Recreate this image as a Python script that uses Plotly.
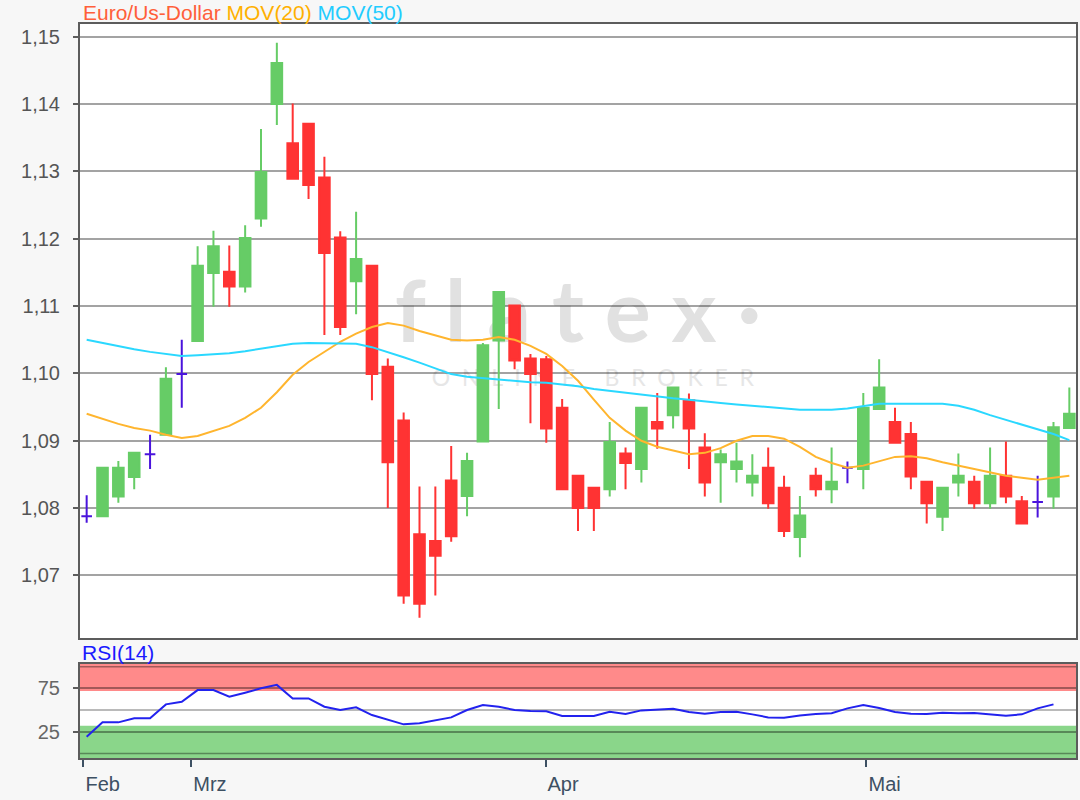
import plotly.graph_objects as go

# ---------------- data ----------------
day_index = list(range(63))

opens = [1.0788, 1.0788, 1.0817, 1.0846, 1.0880, 1.0909, 1.0999, 1.1048, 1.1149, 1.1151,
         1.1129, 1.1230, 1.1400, 1.1342, 1.1371, 1.1291, 1.1202, 1.1137, 1.1160, 1.1010,
         1.0930, 1.0761, 1.0751, 1.0841, 1.0818, 1.0899, 1.1049, 1.1101, 1.1022, 1.1021,
         1.0949, 1.0848, 1.0830, 1.0828, 1.0881, 1.0858, 1.0928, 1.0938, 1.0960, 1.0890,
         1.0868, 1.0858, 1.0838, 1.0860, 1.0830, 1.0757, 1.0848, 1.0828, 1.0860, 1.0858,
         1.0947, 1.0928, 1.0910, 1.0839, 1.0787, 1.0838, 1.0839, 1.0807, 1.0848, 1.0810,
         1.0809, 1.0817, 1.0919]
highs = [1.0819, 1.0860, 1.0870, 1.0882, 1.0909, 1.1009, 1.1050, 1.1189, 1.1212, 1.1190,
         1.1220, 1.1363, 1.1491, 1.1401, 1.1371, 1.1322, 1.1211, 1.1240, 1.1160, 1.1022,
         1.0942, 1.0832, 1.0832, 1.0892, 1.0882, 1.1045, 1.1121, 1.1101, 1.1029, 1.1026,
         1.0962, 1.0848, 1.0830, 1.0928, 1.0890, 1.0949, 1.0971, 1.0979, 1.0970, 1.0911,
         1.0887, 1.0897, 1.0880, 1.0890, 1.0848, 1.0818, 1.0860, 1.0890, 1.0869, 1.0971,
         1.1021, 1.0949, 1.0928, 1.0839, 1.0830, 1.0881, 1.0848, 1.0890, 1.0899, 1.0818,
         1.0848, 1.0928, 1.0979]
lows = [1.0778, 1.0787, 1.0808, 1.0828, 1.0858, 1.0909, 1.0949, 1.1048, 1.1099, 1.1099,
        1.1120, 1.1218, 1.1369, 1.1289, 1.1259, 1.1057, 1.1057, 1.1088, 1.0960, 1.0800,
        1.0658, 1.0637, 1.0670, 1.0750, 1.0788, 1.0899, 1.0947, 1.1006, 1.0926, 1.0897,
        1.0828, 1.0766, 1.0766, 1.0817, 1.0828, 1.0838, 1.0888, 1.0918, 1.0858, 1.0817,
        1.0808, 1.0838, 1.0817, 1.0799, 1.0757, 1.0727, 1.0817, 1.0807, 1.0837, 1.0828,
        1.0947, 1.0897, 1.0828, 1.0777, 1.0766, 1.0817, 1.0799, 1.0799, 1.0807, 1.0777,
        1.0786, 1.0799, 1.0919]
closes = [1.0788, 1.0860, 1.0860, 1.0882, 1.0880, 1.0992, 1.0999, 1.1160, 1.1189, 1.1129,
          1.1201, 1.1299, 1.1461, 1.1289, 1.1280, 1.1179, 1.1069, 1.1170, 1.0999, 1.0868,
          1.0670, 1.0658, 1.0729, 1.0758, 1.0870, 1.1042, 1.1121, 1.1019, 1.0999, 1.0918,
          1.0828, 1.0800, 1.0800, 1.0898, 1.0867, 1.0949, 1.0918, 1.0979, 1.0918, 1.0838,
          1.0880, 1.0869, 1.0848, 1.0807, 1.0766, 1.0789, 1.0828, 1.0839, 1.0860, 1.0949,
          1.0979, 1.0897, 1.0847, 1.0807, 1.0830, 1.0848, 1.0807, 1.0848, 1.0817, 1.0777,
          1.0809, 1.0920, 1.0940]

mov20 = [1.0940, 1.0932, 1.0925, 1.0919, 1.0915, 1.0909, 1.0904, 1.0907, 1.0915, 1.0922,
         1.0934, 1.0949, 1.0972, 1.0998, 1.1017, 1.1032, 1.1047, 1.1059, 1.1069, 1.1075,
         1.1071, 1.1063, 1.1057, 1.1050, 1.1049, 1.1050, 1.1054, 1.1050, 1.1041, 1.1029,
         1.1011, 1.0989, 1.0961, 1.0934, 1.0915, 1.0900, 1.0891, 1.0885, 1.0880, 1.0882,
         1.0889, 1.0900, 1.0907, 1.0907, 1.0903, 1.0891, 1.0876, 1.0867, 1.0860, 1.0863,
         1.0870, 1.0876, 1.0877, 1.0874, 1.0868, 1.0863, 1.0858, 1.0852, 1.0848, 1.0845,
         1.0842, 1.0845, 1.0848]
mov50 = [1.1050, 1.1045, 1.1041, 1.1036, 1.1032, 1.1029, 1.1026, 1.1027, 1.1028, 1.1030,
         1.1033, 1.1037, 1.1041, 1.1044, 1.1045, 1.1045, 1.1045, 1.1044, 1.1039, 1.1032,
         1.1024, 1.1016, 1.1007, 1.0999, 1.0995, 1.0993, 1.0990, 1.0988, 1.0987, 1.0986,
         1.0984, 1.0981, 1.0977, 1.0974, 1.0971, 1.0968, 1.0965, 1.0963, 1.0961, 1.0958,
         1.0956, 1.0954, 1.0952, 1.0949, 1.0947, 1.0946, 1.0946, 1.0946, 1.0948, 1.0951,
         1.0955, 1.0955, 1.0955, 1.0955, 1.0955, 1.0952, 1.0946, 1.0938, 1.0931, 1.0925,
         1.0917, 1.0910, 1.0901]

rsi14 = [19.3, 35.8, 35.8, 40.4, 40.4, 56.5, 59.6, 73.0, 73.0, 65.4,
         70.0, 75.0, 79.0, 63.4, 63.4, 53.8, 50.0, 53.1, 44.2, 39.2,
         33.5, 34.7, 38.5, 41.5, 50.0, 55.8, 53.8, 50.0, 48.8, 48.5,
         43.1, 43.1, 43.1, 48.1, 45.4, 49.6, 50.4, 51.5, 47.7, 45.8,
         47.7, 48.1, 45.0, 41.5, 41.2, 43.8, 45.4, 46.2, 51.9, 55.8,
         52.3, 47.7, 45.8, 45.4, 46.9, 46.2, 46.5, 45.4, 43.5, 45.0,
         51.9, 56.5]

month_tick_pos = [-0.2, 6.6, 28.95, 49.2]
month_tick_text = ["Feb", "Mrz", "Apr", "Mai"]
price_ticks = [1.07, 1.08, 1.09, 1.10, 1.11, 1.12, 1.13, 1.14, 1.15]
rsi_ticks = [25, 75]
rsi_extra_lines = [0, 50, 100]
rsi_overbought = 72
rsi_oversold = 32

# ---------------- styling ----------------
FONT = "Liberation Sans"
GREEN = "#66cc66"
RED = "#ff3333"
DOJI = "#4a14dc"
GRID = "rgba(0,0,0,0.36)"
FRAME = "#5c5c5c"

x_range = [-0.42, 62.42]
y_range = [1.0607, 1.1519]
rsi_range = [-5.3, 103.0]

fig = go.Figure()


def subset(cond):
    idx = [i for i in day_index if cond(opens[i], closes[i])]
    return ([day_index[i] for i in idx], [opens[i] for i in idx], [highs[i] for i in idx],
            [lows[i] for i in idx], [closes[i] for i in idx])


for cond, col in [(lambda o, c: c > o, GREEN), (lambda o, c: c < o, RED), (lambda o, c: c == o, DOJI)]:
    xs, o, h, l, c = subset(cond)
    fig.add_trace(go.Candlestick(
        x=xs, open=o, high=h, low=l, close=c, xaxis="x", yaxis="y",
        increasing=dict(line=dict(color=col, width=2), fillcolor=col),
        decreasing=dict(line=dict(color=col, width=2), fillcolor=col),
        whiskerwidth=0, hoverinfo="skip"))

fig.add_trace(go.Scatter(x=day_index, y=mov20, mode="lines", line=dict(color="#ffb52e", width=2),
                         xaxis="x", yaxis="y", hoverinfo="skip"))
fig.add_trace(go.Scatter(x=day_index, y=mov50, mode="lines", line=dict(color="#2ad8ff", width=2),
                         xaxis="x", yaxis="y", hoverinfo="skip"))

fig.add_trace(go.Scatter(x=day_index[:len(rsi14)], y=rsi14, mode="lines",
                         line=dict(color="#2222ee", width=2), xaxis="x2", yaxis="y2",
                         hoverinfo="skip"))

NB = "\u00a0"
broker_text = (NB * 2).join("ONLINE") + NB * 5 + (NB * 2).join("BROKER")

shapes = [
    # watermark (below grid and traces)
    dict(type="rect", xref="x domain", yref="y domain", x0=0.30, x1=0.70, y0=0.478, y1=0.598,
         line=dict(width=0), fillcolor="rgba(0,0,0,0)", layer="below",
         label=dict(text="f l a t e x ·", textposition="middle center",
                    font=dict(family="Lato", size=86, color="#e1e1e1", weight=700))),
    dict(type="rect", xref="x domain", yref="y domain", x0=0.40, x1=0.63, y0=0.40, y1=0.45,
         line=dict(width=0), fillcolor="rgba(0,0,0,0)", layer="below",
         label=dict(text=broker_text, textposition="middle center",
                    font=dict(family="Lato", size=23, color="#e6e6e6"))),
    # RSI zones
    dict(type="rect", xref="x2 domain", yref="y2", x0=0, x1=1, y0=rsi_overbought, y1=rsi_range[1],
         fillcolor="#ff8a8a", line=dict(width=0), layer="below"),
    dict(type="rect", xref="x2 domain", yref="y2", x0=0, x1=1, y0=rsi_range[0], y1=rsi_oversold,
         fillcolor="#8ad68a", line=dict(width=0), layer="below"),
]
for v in rsi_extra_lines:
    shapes.append(dict(type="line", xref="x2 domain", yref="y2", x0=0, x1=1, y0=v, y1=v,
                       line=dict(color=GRID, width=1.5), layer="below"))

main_bottom = 0.1635
rsi_top = 0.128

axis_common = dict(showline=True, mirror=True, linecolor=FRAME, linewidth=2, zeroline=False)

fig.update_layout(
    width=1080, height=800,
    paper_bgcolor="#f7f7f7", plot_bgcolor="#ffffff",
    margin=dict(l=80, r=2, t=24, b=42),
    showlegend=False, separators=",.",
    boxgap=0.33, boxgroupgap=0,
    font=dict(family=FONT, size=20, color="#555555"),
    shapes=shapes,
    xaxis=dict(domain=[0, 1], anchor="y", range=x_range, showgrid=False, showticklabels=False,
               ticks="", rangeslider=dict(visible=False), **axis_common),
    yaxis=dict(domain=[main_bottom, 1], anchor="x", range=y_range, tickvals=price_ticks,
               tickformat=".2f", showgrid=True, gridcolor=GRID, gridwidth=1.5,
               ticks="outside", ticklen=5, tickwidth=2, tickcolor=FRAME,
               tickfont=dict(family=FONT, size=20, color="#555555"), ticklabelstandoff=9,
               **axis_common),
    xaxis2=dict(domain=[0, 1], anchor="y2", matches="x", range=x_range, showgrid=False,
                tickvals=month_tick_pos, ticktext=month_tick_text, ticks="outside", ticklen=7,
                tickwidth=2, tickcolor="#3d5063", ticklabelposition="outside right",
                tickfont=dict(family=FONT, size=20, color="#3d5063"), ticklabelstandoff=7,
                **axis_common),
    yaxis2=dict(domain=[0, rsi_top], anchor="x2", range=rsi_range, tickvals=rsi_ticks,
                showgrid=True, gridcolor=GRID, gridwidth=1.5, ticks="outside", ticklen=5,
                tickwidth=2, tickcolor=FRAME,
                tickfont=dict(family=FONT, size=20, color="#666666"), ticklabelstandoff=9,
                **axis_common),
    annotations=[
        dict(xref="paper", yref="paper", x=0, y=1, xanchor="left", yanchor="bottom",
             xshift=1, yshift=-2, showarrow=False, font=dict(family=FONT, size=21),
             text="<span style='color:#ff5f3a'>Euro/Us-Dollar</span> "
                  "<span style='color:#ffb000'>MOV(20)</span> "
                  "<span style='color:#22ccff'>MOV(50)</span>"),
        dict(xref="paper", yref="paper", x=0, y=rsi_top, xanchor="left", yanchor="bottom",
             xshift=0, yshift=-2, showarrow=False,
             font=dict(family=FONT, size=21, color="#1a1aff"), text="RSI(14)"),
    ],
)

fig.write_html("out.html", config={"displayModeBar": False},
               post_script="document.body.style.margin='0';document.body.style.overflow='hidden';")
